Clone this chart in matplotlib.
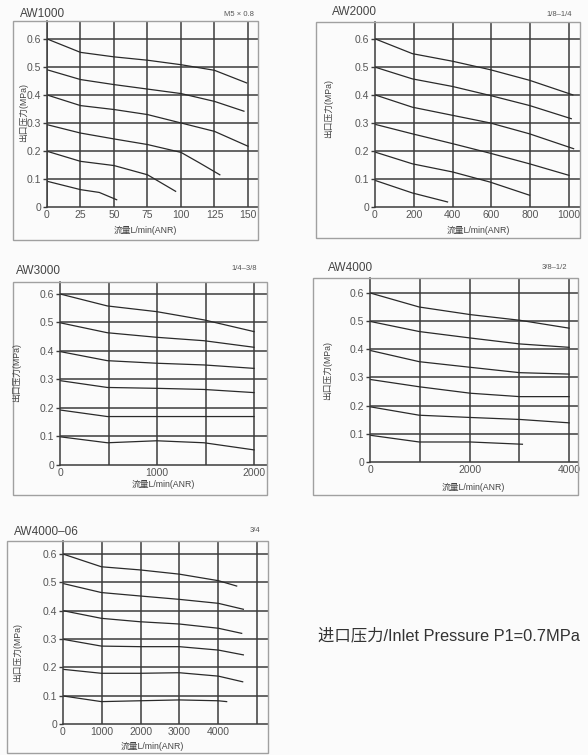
import matplotlib
matplotlib.use("Agg")
import matplotlib.pyplot as plt
from matplotlib.patches import Rectangle

plt.rcParams['font.family'] = ['Liberation Sans', 'Noto Sans CJK SC', 'DejaVu Sans']

W, H = 588, 755
INK = '#3c3c3c'
BOX = '#a0a0a0'

# AW1000 curves (flow L/min, outlet pressure MPa), one list per set pressure
aw1000_x = [[0, 25, 50, 75, 100, 125, 149],
            [0, 25, 50, 75, 100, 125, 147],
            [0, 25, 50, 75, 100, 125, 150],
            [0, 25, 50, 75, 100, 114, 129],
            [0, 25, 50, 75, 96],
            [0, 25, 39, 52]]
aw1000_y = [[0.60, 0.552, 0.536, 0.524, 0.508, 0.488, 0.443],
            [0.49, 0.455, 0.437, 0.421, 0.405, 0.377, 0.342],
            [0.40, 0.362, 0.348, 0.330, 0.300, 0.270, 0.217],
            [0.294, 0.264, 0.243, 0.223, 0.195, 0.157, 0.115],
            [0.199, 0.163, 0.148, 0.115, 0.056],
            [0.092, 0.062, 0.052, 0.026]]

# AW2000
aw2000_x = [[0, 193, 400, 593, 797, 1020],
            [0, 193, 400, 593, 797, 1012],
            [0, 193, 400, 593, 797, 1024],
            [0, 193, 400, 593, 797, 1000],
            [0, 193, 400, 593, 797],
            [0, 193, 374]]
aw2000_y = [[0.60, 0.547, 0.520, 0.490, 0.452, 0.400],
            [0.499, 0.457, 0.430, 0.398, 0.362, 0.315],
            [0.40, 0.356, 0.327, 0.300, 0.261, 0.208],
            [0.295, 0.261, 0.226, 0.192, 0.154, 0.113],
            [0.196, 0.154, 0.125, 0.089, 0.042],
            [0.095, 0.050, 0.018]]

# AW3000
aw3000_x = [0, 488, 997, 1485, 2000]
aw3000_y = [[0.60, 0.558, 0.538, 0.509, 0.468],
            [0.499, 0.464, 0.448, 0.436, 0.413],
            [0.398, 0.366, 0.357, 0.351, 0.339],
            [0.296, 0.272, 0.269, 0.265, 0.254],
            [0.193, 0.170, 0.170, 0.170, 0.170],
            [0.099, 0.078, 0.085, 0.078, 0.053]]

# AW4000
aw4000_x = [[0, 990, 2020, 3010, 4000]] * 5 + [[0, 990, 2020, 3063]]
aw4000_y = [[0.60, 0.550, 0.523, 0.503, 0.475],
            [0.499, 0.463, 0.440, 0.419, 0.407],
            [0.396, 0.356, 0.336, 0.317, 0.312],
            [0.293, 0.267, 0.244, 0.232, 0.232],
            [0.196, 0.166, 0.158, 0.151, 0.139],
            [0.095, 0.071, 0.071, 0.063]]

# AW4000-06
aw4006_x = [[0, 989, 1978, 2994, 4000, 4473],
            [0, 989, 1978, 2994, 4000, 4645],
            [0, 989, 1978, 2994, 4000, 4602],
            [0, 989, 1978, 2994, 4000, 4645],
            [0, 989, 1978, 2994, 4000, 4628],
            [0, 989, 1978, 2994, 4000, 4215]]
aw4006_y = [[0.60, 0.555, 0.544, 0.529, 0.506, 0.487],
            [0.496, 0.464, 0.452, 0.440, 0.426, 0.405],
            [0.40, 0.373, 0.361, 0.353, 0.338, 0.320],
            [0.299, 0.275, 0.273, 0.273, 0.261, 0.244],
            [0.193, 0.179, 0.179, 0.181, 0.169, 0.149],
            [0.099, 0.079, 0.082, 0.085, 0.082, 0.079]]

y_ticks = [0, 0.1, 0.2, 0.3, 0.4, 0.5, 0.6]
y_labels = ['0', '0.1', '0.2', '0.3', '0.4', '0.5', '0.6']


def frac(l, t, r, b):
    return [l / W, 1 - b / H, (r - l) / W, (b - t) / H]


fig = plt.figure(figsize=(W / 100, H / 100), dpi=100)
fig.patch.set_facecolor('#fbfbfb')

panels = [
    dict(title='AW1000', size='M5 × 0.8', box=(13, 21, 258, 240), ax=(47, 21, 258, 207),
         xmax=157.5, ymax=0.664, grid=[0, 25, 50, 75, 100, 125, 150],
         ticks=[0, 25, 50, 75, 100, 125, 150], xs=aw1000_x, ys=aw1000_y,
         title_xy=(20, 14), size_xy=(254, 14), ylab_xy=(24, 113), xlab_xy=(145, 230)),
    dict(title='AW2000', size='1/8–1/4', box=(316, 22, 580, 238), ax=(375, 22, 580, 207),
         xmax=1057, ymax=0.66, grid=[200, 400, 600, 800, 1000],
         ticks=[0, 200, 400, 600, 800, 1000], xs=aw2000_x, ys=aw2000_y,
         title_xy=(332, 12), size_xy=(572, 15), ylab_xy=(329, 108), xlab_xy=(478, 230)),
    dict(title='AW3000', size='1/4–3/8', box=(13, 282, 267, 495), ax=(60, 282, 267, 465),
         xmax=2134, ymax=0.642, grid=[500, 1000, 1500, 2000],
         ticks=[0, 1000, 2000], xs=[aw3000_x] * 6, ys=aw3000_y,
         title_xy=(16, 271), size_xy=(257, 269), ylab_xy=(17, 373), xlab_xy=(163, 484)),
    dict(title='AW4000', size='3/8–1/2', box=(313, 278, 578, 495), ax=(370, 278, 578, 462),
         xmax=4180, ymax=0.653, grid=[1000, 2000, 3000, 4000],
         ticks=[0, 2000, 4000], xs=aw4000_x, ys=aw4000_y,
         title_xy=(328, 268), size_xy=(567, 268), ylab_xy=(328, 370), xlab_xy=(473, 487)),
    dict(title='AW4000–06', size='3/4', box=(7, 541, 268, 753), ax=(63, 541, 268, 724),
         xmax=5280, ymax=0.646, grid=[1000, 2000, 3000, 4000, 5000],
         ticks=[0, 1000, 2000, 3000, 4000], xs=aw4006_x, ys=aw4006_y,
         title_xy=(14, 532), size_xy=(260, 530), ylab_xy=(18, 652), xlab_xy=(152, 746)),
]

for p in panels:
    l, t, r, b = p['box']
    fig.patches.append(Rectangle((l / W, 1 - b / H), (r - l) / W, (b - t) / H,
                                 transform=fig.transFigure, fill=False,
                                 edgecolor=BOX, linewidth=1.0))
    ax = fig.add_axes(frac(*p['ax']))
    ax.set_facecolor('none')
    ax.set_xlim(0, p['xmax'])
    ax.set_ylim(0, p['ymax'])
    for s in ['top', 'right']:
        ax.spines[s].set_visible(False)
    for s in ['left', 'bottom']:
        ax.spines[s].set_color(INK)
        ax.spines[s].set_linewidth(1.1)
    for g in p['grid']:
        ax.axvline(g, color=INK, lw=1.1, zorder=1)
    for v in y_ticks[1:]:
        ax.axhline(v, color=INK, lw=1.1, zorder=1)
    ax.set_yticks(y_ticks)
    ax.set_yticklabels(y_labels)
    ax.set_xticks(p['ticks'])
    ax.set_xticklabels([str(v) for v in p['ticks']])
    ax.tick_params(axis='y', length=3, width=1.0, color=INK, pad=1,
                   labelsize=7.5, labelcolor='#555555')
    ax.tick_params(axis='x', length=0, pad=2, labelsize=7.5, labelcolor='#555555')
    for xs, ys in zip(p['xs'], p['ys']):
        ax.plot(xs, ys, color='#2a2a2a', lw=0.9, zorder=2)

    tx, ty = p['title_xy']
    fig.text(tx / W, 1 - ty / H, p['title'], fontsize=8.5, color='#444444',
             ha='left', va='center')
    sx, sy = p['size_xy']
    fig.text(sx / W, 1 - sy / H, p['size'], fontsize=5.5, color='#555555',
             ha='right', va='center')
    yx, yy = p['ylab_xy']
    fig.text(yx / W, 1 - yy / H, '出口压力(MPa)', fontsize=6.3, color='#444444',
             rotation=90, ha='center', va='center')
    xx, xy = p['xlab_xy']
    fig.text(xx / W, 1 - xy / H, '流量L/min(ANR)', fontsize=6.3, color='#444444',
             ha='center', va='center')

fig.text(318 / W, 1 - 635 / H, '进口压力/Inlet Pressure P1=0.7MPa', fontsize=11.8,
         color='#333333', ha='left', va='center')

fig.savefig('out.png', dpi=100, facecolor=fig.get_facecolor())
